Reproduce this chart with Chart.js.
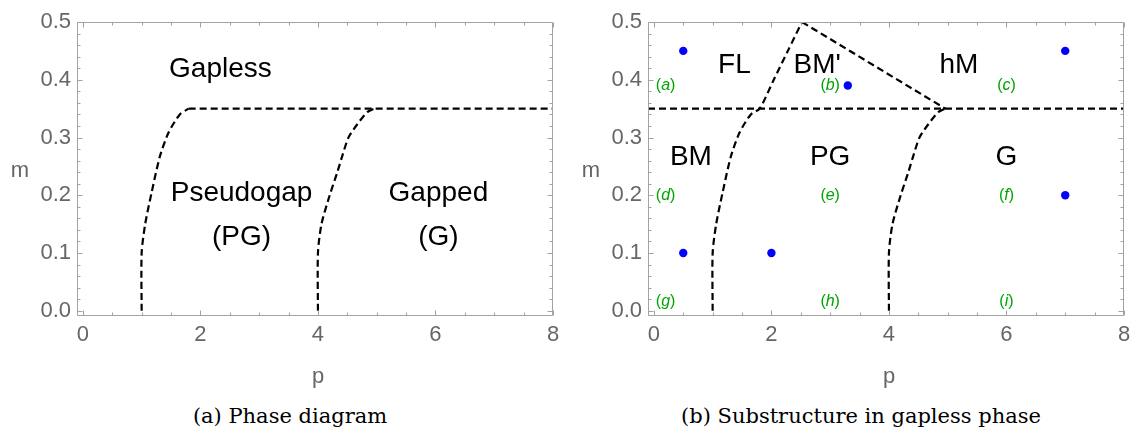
<!DOCTYPE html>
<html>
<head>
<meta charset="utf-8">
<script src="https://cdn.jsdelivr.net/npm/chart.js@4.4.1/dist/chart.umd.min.js"></script>
<style>
  body { margin: 0; background: #fff; }
  #wrap { position: relative; width: 1132px; height: 430px; overflow: hidden; }
  canvas { position: absolute; top: 0; }
  #chartA { left: 0; }
  #chartB { left: 571px; }
  .caption {
    position: absolute; top: 404px;
    font-family: 'DejaVu Serif', 'Liberation Serif', serif; font-size: 21px;
    color: #000; transform: translateX(-50%); white-space: nowrap;
  }
</style>
</head>
<body>
<div id="wrap">
  <canvas id="chartA" width="566" height="400"></canvas>
  <canvas id="chartB" width="561" height="400"></canvas>
  <div class="caption" style="left:290px">(a) Phase diagram</div>
  <div class="caption" style="left:861px">(b) Substructure in gapless phase</div>
</div>
<script>
// axis ticks
const xTicks = [0, 2, 4, 6, 8];
const yTicks = [0, 0.1, 0.2, 0.3, 0.4, 0.5];

// (a) phase boundaries
const pgEdgeP = [1, 1, 1.06, 1.17, 1.31, 1.46, 1.65, 1.8];
const pgEdgeM = [0, 0.1, 0.15, 0.205, 0.267, 0.309, 0.34, 0.35];
const gapEdgeP = [4, 4, 4.06, 4.2, 4.33, 4.42, 4.52, 4.67, 4.84, 4.96];
const gapEdgeM = [0, 0.1, 0.15, 0.2, 0.24, 0.27, 0.3, 0.323, 0.344, 0.35];
const gaplessEdgeP = [1.8, 8];
const gaplessEdgeM = [0.35, 0.35];

// (a) region names
const regionsA = ['Gapless', 'Pseudogap', '(PG)', 'Gapped', '(G)'];
const regionsAP = [2.34, 2.7, 2.7, 6.05, 6.05];
const regionsAM = [0.419, 0.204, 0.128, 0.204, 0.128];

// (b) boundaries
const flEdgeP = [1, 1, 1.06, 1.17, 1.31, 1.46, 1.65, 1.8, 2.04, 2.28, 2.52];
const flEdgeM = [0, 0.1, 0.15, 0.205, 0.267, 0.309, 0.34, 0.35, 0.4, 0.45, 0.5];
const bmPrimeEdgeP = [2.52, 4.96];
const bmPrimeEdgeM = [0.5, 0.35];
const midLineP = [-0.1, 8];
const midLineM = [0.35, 0.35];

// (b) region names
const regionsB = ['FL', "BM'", 'hM', 'BM', 'PG', 'G'];
const regionsBP = [1.37, 2.78, 5.19, 0.63, 3.0, 6.0];
const regionsBM = [0.425, 0.425, 0.425, 0.266, 0.266, 0.266];

// (b) sample points and panel tags
const sampleP = [0.5, 3.3, 7, 7, 0.5, 2];
const sampleM = [0.45, 0.39, 0.45, 0.2, 0.1, 0.1];
const tagLetters = ['a', 'b', 'c', 'd', 'e', 'f', 'g', 'h', 'i'];
const tagP = [0.2, 3.0, 6.0, 0.2, 3.0, 6.0, 0.2, 3.0, 6.0];
const tagM = [0.39, 0.39, 0.39, 0.2, 0.2, 0.2, 0.016, 0.016, 0.016];

const SANS = "'Liberation Sans', Arial, sans-serif";
const xMinorStep = 0.5;
const yMinorStep = 0.02;

function toPoints(px, py) {
  return px.map((p, i) => ({ x: p, y: py[i] }));
}

function dashed(px, py, tension) {
  return {
    type: 'scatter',
    data: toPoints(px, py),
    showLine: true,
    borderColor: '#000',
    borderWidth: 2.2,
    borderDash: [7, 4],
    pointRadius: 0,
    fill: false,
    tension: tension || 0
  };
}

// Mathematica-style frame with inward ticks on all four sides
const frameTicks = {
  id: 'frameTicks',
  afterDraw(chart) {
    const { ctx, chartArea: a, scales: { x, y } } = chart;
    const L = Math.round(a.left) + 0.5, R = Math.round(a.right) - 0.5;
    const T = Math.round(a.top) + 0.5, B = Math.round(a.bottom) - 0.5;
    ctx.save();
    ctx.strokeStyle = '#a3a3a3';
    ctx.lineWidth = 1;
    ctx.beginPath();
    ctx.rect(L, T, R - L, B - T);
    for (let i = 0; i * xMinorStep <= 8 + 1e-9; i++) {
      const v = i * xMinorStep;
      const px = Math.round(x.getPixelForValue(v)) + 0.5;
      const len = xTicks.includes(v) ? 5 : 3;
      ctx.moveTo(px, B); ctx.lineTo(px, B - len);
      ctx.moveTo(px, T); ctx.lineTo(px, T + len);
    }
    for (let i = 0; i * yMinorStep <= 0.5 + 1e-9; i++) {
      const py = Math.round(y.getPixelForValue(i * yMinorStep)) + 0.5;
      const len = i % 5 === 0 ? 5 : 3;
      ctx.moveTo(L, py); ctx.lineTo(L + len, py);
      ctx.moveTo(R, py); ctx.lineTo(R - len, py);
    }
    ctx.stroke();

    // axis names
    ctx.fillStyle = '#666';
    ctx.font = '22px ' + SANS;
    ctx.textAlign = 'center';
    ctx.textBaseline = 'middle';
    ctx.fillText('m', a.left - 57, (a.top + a.bottom) / 2 + 2);
    ctx.fillText('p', (a.left + a.right) / 2 + 3, a.bottom + 61);
    ctx.restore();
  }
};

// region names and green panel tags
const regionText = {
  id: 'regionText',
  afterDatasetsDraw(chart, args, opts) {
    const { ctx, scales: { x, y } } = chart;
    ctx.save();
    ctx.fillStyle = '#000';
    ctx.font = '28px ' + SANS;
    ctx.textAlign = 'center';
    ctx.textBaseline = 'middle';
    opts.names.forEach((t, i) => {
      ctx.fillText(t, x.getPixelForValue(opts.p[i]), y.getPixelForValue(opts.m[i]));
    });
    if (opts.tags) {
      ctx.fillStyle = '#00a400';
      ctx.textAlign = 'left';
      const up = '16px ' + SANS, it = 'italic 16px ' + SANS;
      opts.tags.forEach((t, i) => {
        ctx.font = up;
        const wp = ctx.measureText('(').width;
        const wc = ctx.measureText(')').width;
        ctx.font = it;
        const wl = ctx.measureText(t).width;
        let cx = x.getPixelForValue(opts.tagP[i]) - (wp + wl + wc) / 2;
        const cy = y.getPixelForValue(opts.tagM[i]);
        ctx.font = up; ctx.fillText('(', cx, cy); cx += wp;
        ctx.font = it; ctx.fillText(t, cx, cy); cx += wl;
        ctx.font = up; ctx.fillText(')', cx, cy);
      });
    }
    ctx.restore();
  }
};

function makePanel(id, datasets, rightPad, textOpts) {
  return new Chart(document.getElementById(id), {
    type: 'scatter',
    data: { datasets },
    plugins: [frameTicks, regionText],
    options: {
      responsive: false,
      animation: false,
      layout: { padding: { left: 0, right: rightPad, top: 22, bottom: 0 } },
      plugins: {
        legend: { display: false },
        tooltip: { enabled: false },
        regionText: textOpts
      },
      scales: {
        x: {
          type: 'linear',
          min: -0.1,
          max: 8,
          grid: { display: false, drawTicks: false },
          border: { display: false },
          afterBuildTicks: s => { s.ticks = xTicks.map(v => ({ value: v })); },
          afterFit: s => { s.height = 84; s.paddingLeft = 0; s.paddingRight = 0; },
          ticks: {
            color: '#666',
            font: { family: SANS, size: 22 },
            padding: 6,
            maxRotation: 0,
            callback: v => String(v)
          }
        },
        y: {
          type: 'linear',
          min: -0.009,
          max: 0.5,
          grid: { display: false, drawTicks: false },
          border: { display: false },
          afterBuildTicks: s => { s.ticks = yTicks.map(v => ({ value: v })); },
          afterFit: s => { s.width = 77; s.paddingTop = 0; s.paddingBottom = 0; },
          ticks: {
            color: '#666',
            font: { family: SANS, size: 22 },
            padding: 6,
            callback: v => v.toFixed(1)
          }
        }
      }
    }
  });
}

makePanel('chartA', [
  dashed(pgEdgeP, pgEdgeM, 0.25),
  dashed(gapEdgeP, gapEdgeM, 0.25),
  dashed(gaplessEdgeP, gaplessEdgeM)
], 13, { names: regionsA, p: regionsAP, m: regionsAM });

makePanel('chartB', [
  dashed(flEdgeP, flEdgeM, 0.25),
  dashed(gapEdgeP, gapEdgeM, 0.25),
  dashed(bmPrimeEdgeP, bmPrimeEdgeM),
  dashed(midLineP, midLineM),
  {
    type: 'scatter',
    data: toPoints(sampleP, sampleM),
    pointRadius: 4.2,
    pointBackgroundColor: '#0000ff',
    pointBorderWidth: 0,
    showLine: false
  }
], 8, {
  names: regionsB, p: regionsBP, m: regionsBM,
  tags: tagLetters, tagP: tagP, tagM: tagM
});
</script>
</body>
</html>
